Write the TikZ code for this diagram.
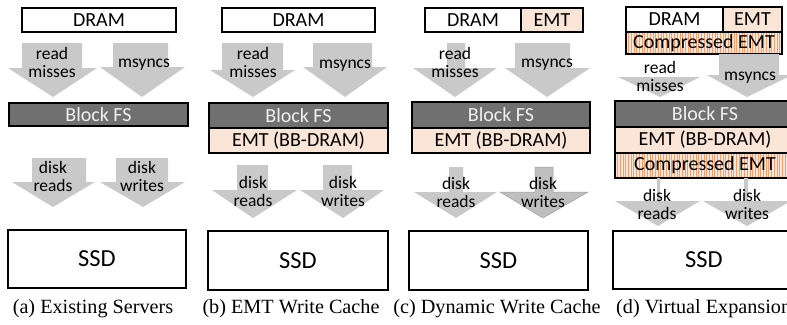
\documentclass[tikz,border=0pt]{standalone}
\usepackage{fontspec}
\setmainfont{Liberation Serif}
\newfontfamily\carl{Carlito}
\definecolor{arrowfill}{RGB}{201,201,201}
\definecolor{fsgray}{RGB}{112,112,112}
\definecolor{fstext}{RGB}{240,240,240}
\definecolor{peach}{RGB}{251,229,214}
\definecolor{hatchc}{RGB}{241,160,108}
\tikzset{
  boxbase/.style={draw=black, line width=1.4pt, inner sep=0pt, font=\carl\fontsize{20}{24}\selectfont},
  plainbox/.style={boxbase, fill=white},
  fsbox/.style={boxbase, fill=fsgray, text=fstext},
  emtbox/.style={boxbase, fill=peach},
  hatchbox/.style={boxbase, fill=peach, path picture={
      \foreach \i in {0,2.7,...,200}
        \draw[hatchc, line width=0.9pt]
          ([xshift=\i pt]path picture bounding box.north west) --
          ([xshift=\i pt]path picture bounding box.south west);}},
  ssdbox/.style={boxbase, fill=white, line width=1.6pt, font=\carl\fontsize{24.5}{28}\selectfont},
  lbl/.style={inner sep=0pt, align=center, font=\carl\fontsize{17.5}{18}\selectfont},
  captxt/.style={inner sep=0pt, anchor=base, font=\fontsize{20.2}{22}\selectfont},
  arrowbody/.style={fill=arrowfill},
  arrowsel/.style={fill=arrowfill!95!black, draw=gray!75, line width=0.5pt}
}
% #1 name #2 x1 #3 y1 #4 x2 #5 y2 #6 style #7 text
\newcommand\bx[7]{\node[#6, minimum width={(#4-#2)*1pt}, minimum height={(#5-#3)*1pt}] (#1) at ({(#2+#4)/2},{(#3+#5)/2}) {#7};}
% #1 style #2 shaft left #3 shaft right #4 shaft top #5 head base #6 head left #7 head right #8 tip x #9 tip y
\newcommand\barrow[9]{\path[#1] (#2,#4) -- (#2,#5) -- (#6,#5) -- (#8,#9) -- (#7,#5) -- (#3,#5) -- (#3,#4) -- cycle;}
\begin{document}
\begin{tikzpicture}[x=1pt,y=-1pt]
\useasboundingbox (0,0) rectangle (787,324);
\clip (0,0) rectangle (787,324);
\fill[white] (0,0) rectangle (787,324);

% ---------- panel (a)
\bx{dramA}{22}{8}{176}{32}{plainbox}{DRAM}
\barrow{arrowbody}{22}{82}{43}{68}{8}{97}{53}{97}
\barrow{arrowbody}{113}{168}{43}{67}{100}{185}{142}{97}
\bx{fsA}{9}{103}{188}{126}{fsbox}{Block FS}
\barrow{arrowbody}{32}{86}{158}{182}{12}{95}{53}{207}
\barrow{arrowbody}{116}{168}{158}{182}{100}{185}{143}{207}
\bx{ssdA}{8}{230}{186}{288}{ssdbox}{SSD}
\node[lbl] (rmA) at (52,62) {read\\misses};
\node[lbl] (msA) at (144,65) {msyncs};
\node[lbl] (drA) at (53,176) {disk\\reads};
\node[lbl] (dwA) at (142,176) {disk\\writes};
\node[captxt] (capA) at (93,313) {(a) Existing Servers};

% ---------- panel (b)
\bx{dramB}{222}{8}{375}{32}{plainbox}{DRAM}
\barrow{arrowbody}{222}{283}{43}{70}{210}{295}{253}{97}
\barrow{arrowbody}{313}{372}{43}{67}{303}{387}{345}{97}
\bx{fsB}{209}{103}{388}{128}{fsbox}{Block FS}
\bx{emtB}{209}{128}{388}{153}{emtbox}{EMT (BB-DRAM)}
\barrow{arrowbody}{237}{268}{165}{190}{212}{297}{253}{218}
\barrow{arrowbody}{323}{352}{165}{190}{300}{384}{343}{218}
\bx{ssdB}{208}{231}{388}{290}{ssdbox}{SSD}
\node[lbl] (rmB) at (253,62) {read\\misses};
\node[lbl] (msB) at (345,66) {msyncs};
\node[lbl] (drB) at (253,191) {disk\\reads};
\node[lbl] (dwB) at (343,191) {disk\\writes};
\node[captxt] (capB) at (291,313) {(b) EMT Write Cache};

% ---------- panel (c)
\bx{dramC}{425}{8}{521}{32}{plainbox}{DRAM}
\bx{emtC}{521}{8}{583}{32}{emtbox}{EMT}
\barrow{arrowbody}{447}{465}{43}{68}{413}{497}{455}{97}
\barrow{arrowbody}{515}{570}{43}{68}{505}{590}{547}{97}
\bx{fsC}{412}{102}{590}{128}{fsbox}{Block FS}
\bx{emtbC}{412}{128}{590}{153}{emtbox}{EMT (BB-DRAM)}
\barrow{arrowbody}{449}{463}{167}{192}{414}{497}{456}{218}
\barrow{arrowsel}{535}{553}{167}{192}{500}{588}{543}{218}
\bx{ssdC}{409}{231}{588}{290}{ssdbox}{SSD}
\node[lbl] (rmC) at (455,62) {read\\misses};
\node[lbl] (msC) at (547,65) {msyncs};
\node[lbl] (drC) at (456,192) {disk\\reads};
\node[lbl] (dwC) at (543,192) {disk\\writes};
\node[captxt] (capC) at (497,313) {(c) Dynamic Write Cache};

% ---------- panel (d)
\bx{dramD}{626}{7}{723}{32}{plainbox}{DRAM}
\bx{emtD}{723}{7}{782}{32}{emtbox}{EMT}
\bx{cmpD}{626}{32}{782}{54}{hatchbox}{Compressed EMT}
\barrow{arrowbody}{660}{660}{77}{77}{618}{700}{660}{97}
\barrow{arrowbody}{719}{779}{54}{75}{707}{792}{747}{97}
\bx{fsD}{615}{101}{795}{127}{fsbox}{Block FS}
\bx{emtbD}{615}{127}{795}{153}{emtbox}{EMT (BB-DRAM)}
\bx{cmpbD}{615}{153}{795}{178}{hatchbox}{Compressed EMT}
\barrow{arrowbody}{657}{660}{178}{201}{615}{700}{658}{226}
\barrow{arrowbody}{744}{748}{178}{201}{703}{791}{747}{226}
\bx{ssdD}{613}{231}{795}{289}{ssdbox}{SSD}
\node[lbl] (rmD) at (660,76) {read\\misses};
\node[lbl] (msD) at (750,78) {msyncs};
\node[lbl] (drD) at (657,204) {disk\\reads};
\node[lbl] (dwD) at (747,204) {disk\\writes};
\node[captxt, anchor=base west] (capD) at (616,313) {(d) Virtual Expansion};
\end{tikzpicture}
\end{document}
